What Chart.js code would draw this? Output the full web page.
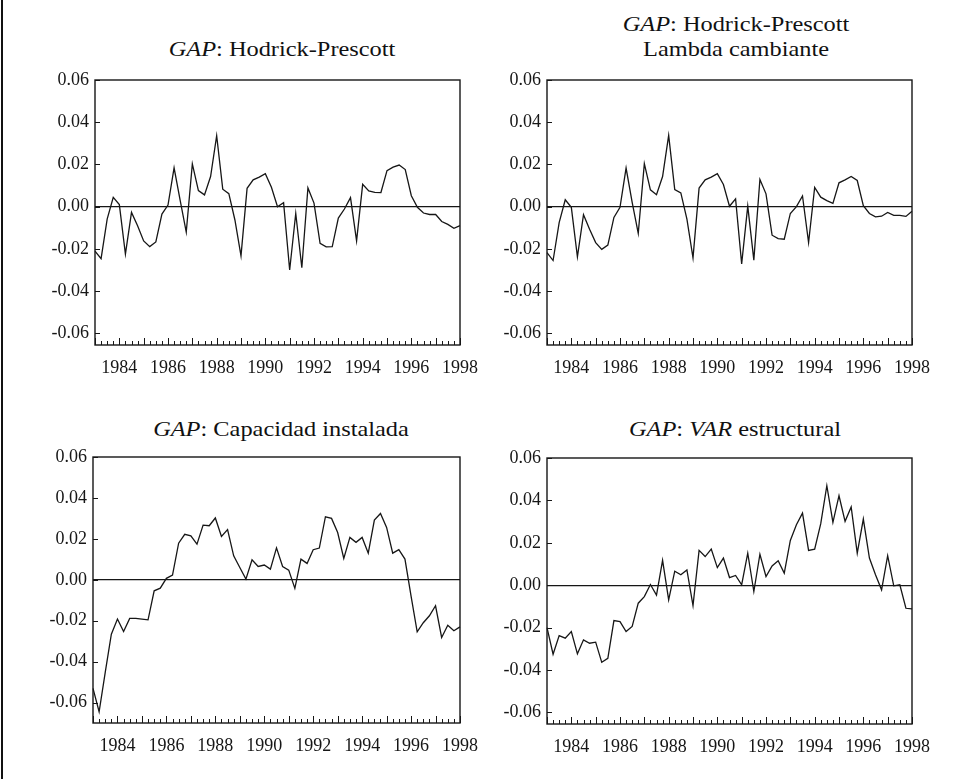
<!DOCTYPE html>
<html>
<head>
<meta charset="utf-8">
<script src="https://cdn.jsdelivr.net/npm/chart.js@4.4.1/dist/chart.umd.min.js"></script>
<style>
    body { margin: 0; background: #fff; width: 954px; height: 779px; position: relative; overflow: hidden;
           font-family: "Liberation Serif", "DejaVu Serif", serif; color: #111; }
    .edge { position: absolute; left: 1px; top: 0; width: 2px; height: 779px; background: #111; }
    canvas { position: absolute; }
    .title { position: absolute; width: 420px; text-align: center; font-size: 21px; line-height: 25px;
             transform: scaleX(1.16); white-space: nowrap; }
</style>
</head>
<body>
<div class="edge"></div>

<div class="title" style="left:72px; top:37px;"><i>GAP</i>: Hodrick-Prescott</div>
<div class="title" style="left:526px; top:12px;"><i>GAP</i>: Hodrick-Prescott<br>Lambda cambiante</div>
<div class="title" style="left:71px; top:417px;"><i>GAP</i>: Capacidad instalada</div>
<div class="title" style="left:525px; top:417px;"><i>GAP</i>: <i>VAR</i> estructural</div>

<canvas id="gapHP" width="490" height="320" style="left:0px; top:60px;"></canvas>
<canvas id="gapLambda" width="490" height="320" style="left:452px; top:60px;"></canvas>
<canvas id="gapCapacidad" width="490" height="321" style="left:0px; top:437px;"></canvas>
<canvas id="gapVar" width="490" height="322" style="left:452px; top:437px;"></canvas>

<script>
// ========================================
// GAP DEL PRODUCTO - 4 ESTIMACIONES (trimestral 1983Q1 - 1998Q1)
// ========================================

const firstYear = 1983;
const nObs = 61;
const quarters = [];
for (let i = 0; i < nObs; i++) {
    quarters.push((firstYear + Math.floor(i / 4)) + 'Q' + (i % 4 + 1));
}

const yearLabels = ['1984', '1986', '1988', '1990', '1992', '1994', '1996', '1998'];
const yTicks = [-0.06, -0.04, -0.02, 0.00, 0.02, 0.04, 0.06];

const gapHP = [
    -0.021, -0.0246, -0.0059, 0.0044, 0.001, -0.0225, -0.0027, -0.009, -0.0162, -0.0189,
    -0.0167, -0.0035, 0.0008, 0.0184, 0.003, -0.012, 0.0203, 0.0076, 0.0056, 0.0143,
    0.0336, 0.0083, 0.0062, -0.0063, -0.0233, 0.0087, 0.0127, 0.014, 0.0156, 0.0092,
    0.0, 0.0019, -0.030, -0.0032, -0.0289, 0.0089, 0.0017, -0.0173, -0.019, -0.0189,
    -0.0054, -0.0011, 0.0043, -0.0162, 0.0106, 0.0075, 0.0068, 0.0067, 0.0171, 0.0187,
    0.0197, 0.0176, 0.0052, -0.0003, -0.003, -0.0037, -0.0037, -0.007, -0.0084, -0.0102,
    -0.009
];

const gapLambda = [
    -0.0218, -0.0255, -0.0075, 0.0033, -0.0003, -0.0237, -0.0038, -0.0107, -0.017, -0.0202,
    -0.0182, -0.0051, -0.0003, 0.0183, 0.002, -0.0126, 0.0204, 0.008, 0.0057, 0.0143,
    0.0338, 0.0081, 0.0065, -0.0059, -0.0242, 0.0088, 0.0127, 0.014, 0.0156, 0.0105,
    0.0002, 0.0037, -0.0271, 0.0003, -0.0253, 0.0129, 0.0061, -0.0135, -0.0151, -0.0154,
    -0.0032, 0.0, 0.0051, -0.017, 0.0091, 0.0045, 0.0029, 0.0016, 0.0113, 0.0127,
    0.0143, 0.0124, 0.0005, -0.0032, -0.0048, -0.0045, -0.0027, -0.0041, -0.0041, -0.0046,
    -0.0022
];

const gapCapacidad = [
    -0.0531, -0.0645, -0.0453, -0.0266, -0.0192, -0.0253, -0.0189, -0.0189, -0.0192, -0.0196,
    -0.0054, -0.0041, 0.0007, 0.0023, 0.0179, 0.0222, 0.0215, 0.0174, 0.0267, 0.0264,
    0.0302, 0.0212, 0.0245, 0.0117, 0.006, 0.0003, 0.0098, 0.0065, 0.0072, 0.0052,
    0.0156, 0.0065, 0.0047, -0.0042, 0.0101, 0.008, 0.0147, 0.0155, 0.0308, 0.030,
    0.0231, 0.0104, 0.0207, 0.0183, 0.0207, 0.013, 0.0292, 0.0324, 0.0256, 0.013,
    0.0147, 0.0101, -0.008, -0.0254, -0.021, -0.0176, -0.0127, -0.0282, -0.0222, -0.0249,
    -0.023
];

const gapVar = [
    -0.020, -0.0326, -0.0238, -0.025, -0.0219, -0.0324, -0.0258, -0.0274, -0.0269, -0.0364,
    -0.0345, -0.0167, -0.0172, -0.0219, -0.0195, -0.0085, -0.0054, 0.0003, -0.0047, 0.0117,
    -0.0069, 0.0066, 0.0049, 0.0072, -0.0096, 0.0164, 0.0135, 0.017, 0.0083, 0.0128,
    0.0036, 0.0046, 0.0002, 0.0151, -0.003, 0.0146, 0.0041, 0.0091, 0.0115, 0.0057,
    0.0211, 0.0285, 0.034, 0.0164, 0.017, 0.029, 0.0469, 0.0296, 0.0422, 0.0301,
    0.0369, 0.0151, 0.0312, 0.0128, 0.0049, -0.0022, 0.0139, -0.0003, 0.0002, -0.0109,
    -0.0112
];

const ink = '#161616';
const tickFont = { family: '"Liberation Serif", "DejaVu Serif", serif', size: 18 };

// marco completo y marcas hacia adentro (trimestrales / anuales)
const frameTicks = {
    id: 'frameTicks',
    afterDraw(chart) {
        const { ctx, chartArea: a, scales } = chart;
        ctx.save();
        ctx.strokeStyle = ink;
        ctx.lineWidth = 1.4;
        ctx.strokeRect(a.left, a.top, a.right - a.left, a.bottom - a.top);
        ctx.lineWidth = 1;
        ctx.beginPath();
        quarters.forEach((q, i) => {
            const x = Math.round(scales.x.getPixelForValue(i)) + 0.5;
            const len = q.endsWith('Q1') ? 7 : 4;
            ctx.moveTo(x, a.bottom);
            ctx.lineTo(x, a.bottom - len);
        });
        yTicks.forEach(v => {
            const y = Math.round(scales.y.getPixelForValue(v)) + 0.5;
            ctx.moveTo(a.left, y);
            ctx.lineTo(a.left + 5, y);
        });
        ctx.stroke();
        ctx.restore();
    }
};

function makePanel(id, values, yMin, yAxisWidth, padRight, padTop) {
    return new Chart(document.getElementById(id), {
        type: 'line',
        data: {
            labels: quarters,
            datasets: [{
                data: values,
                borderColor: ink,
                borderWidth: 1.3,
                pointRadius: 0,
                tension: 0,
                fill: false
            }]
        },
        options: {
            responsive: false,
            animation: false,
            devicePixelRatio: 1,
            layout: { padding: { top: padTop, right: padRight, left: 0, bottom: 0 } },
            plugins: { legend: { display: false }, tooltip: { enabled: false } },
            scales: {
                x: {
                    type: 'category',
                    offset: false,
                    afterFit: (s) => { s.height = 35; },
                    grid: { display: false, drawTicks: false },
                    border: { display: false },
                    ticks: {
                        autoSkip: false,
                        maxRotation: 0,
                        minRotation: 0,
                        padding: 12,
                        color: ink,
                        font: tickFont,
                        callback: function (value) {
                            const q = quarters[value];
                            const yr = q.slice(0, 4);
                            return q.endsWith('Q1') && yearLabels.includes(yr) ? yr : null;
                        }
                    }
                },
                y: {
                    min: yMin,
                    max: 0.06,
                    afterFit: (s) => { s.width = yAxisWidth; },
                    afterBuildTicks: (s) => { s.ticks = yTicks.map(v => ({ value: v })); },
                    border: { display: false },
                    grid: {
                        drawTicks: false,
                        color: (c) => (c.tick && Math.abs(c.tick.value) < 1e-9 ? ink : 'rgba(0,0,0,0)'),
                        lineWidth: 1.3
                    },
                    ticks: {
                        padding: 6,
                        color: ink,
                        font: tickFont,
                        callback: (v) => v.toFixed(2)
                    }
                }
            }
        },
        plugins: [frameTicks]
    });
}

makePanel('gapHP', gapHP, -0.0655, 95, 21, 20);
makePanel('gapLambda', gapLambda, -0.0655, 95, 18, 20);
makePanel('gapCapacidad', gapCapacidad, -0.07, 93, 21, 20);
makePanel('gapVar', gapVar, -0.0655, 95, 19, 21);
</script>
</body>
</html>
